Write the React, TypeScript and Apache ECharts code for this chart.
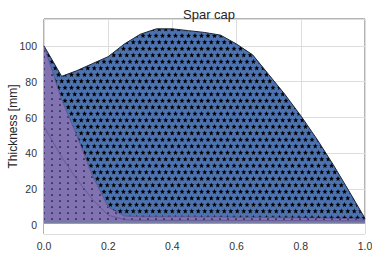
import React, { useEffect, useRef } from "react";
import * as echarts from "echarts";

// Data
const xs = [0, 0.055, 0.1, 0.15, 0.2, 0.25, 0.3, 0.35, 0.4, 0.45, 0.5, 0.55, 0.6, 0.65, 0.7, 0.75, 0.8, 0.85, 0.9, 0.95, 1.0];
// layer thicknesses [mm], from the bottom layer upwards
const layerGreen = [1, 1, 1, 1, 1, 1, 1, 1, 1, 1, 1, 1, 1, 1, 1, 1, 1, 1, 1, 1, 1];
const layerPurpleInner = [54, 37, 25, 13.5, 4.5, 2, 1.6, 1.6, 1.6, 1.6, 1.6, 1.6, 1.6, 1.6, 1.5, 1.5, 1.5, 1.5, 1.4, 1.4, 1.3];
const layerPurpleOuter = [45, 32, 25, 13.5, 4.5, 2, 2, 2, 2, 2, 1.9, 1.9, 1.8, 1.7, 1.7, 1.6, 1.5, 1.4, 1.4, 1.2, 1.0];
const layerBlue = [0, 13, 35, 62, 84, 96, 101.9, 104.9, 104.9, 103.9, 103, 101.5, 96.6, 90.7, 79.8, 68.9, 57, 44.1, 30.2, 15.4, 0.4];
const xTicks = [0, 0.2, 0.4, 0.6, 0.8, 1.0];
const yAxisName = "Thickness [mm]";
const chartTitle = "Spar cap";

const FONT = "Liberation Sans, Arial, sans-serif";

function starTile(bg: string): HTMLCanvasElement {
  const c = document.createElement("canvas");
  c.width = 13;
  c.height = 13;
  const ctx = c.getContext("2d")!;
  ctx.fillStyle = bg;
  ctx.fillRect(0, 0, 13, 13);
  ctx.fillStyle = "#000";
  const pts = [
    [3.25, 3.25], [9.75, 3.25],
    [0, 9.75], [6.5, 9.75], [13, 9.75],
    [0, -3.25], [6.5, -3.25], [13, -3.25],
    [3.25, 16.25], [9.75, 16.25],
  ];
  for (const [cx, cy] of pts) {
    ctx.beginPath();
    for (let i = 0; i < 10; i++) {
      const a = -Math.PI / 2 + (i * Math.PI) / 5;
      const r = i % 2 === 0 ? 2.75 : 1.15;
      ctx.lineTo(cx + r * Math.cos(a), cy + r * Math.sin(a));
    }
    ctx.closePath();
    ctx.fill();
  }
  return c;
}

function dotTile(bg: string): HTMLCanvasElement {
  const c = document.createElement("canvas");
  c.width = 8;
  c.height = 6;
  const ctx = c.getContext("2d")!;
  ctx.fillStyle = bg;
  ctx.fillRect(0, 0, 8, 6);
  ctx.fillStyle = "#111";
  ctx.beginPath();
  ctx.arc(4, 3, 0.85, 0, Math.PI * 2);
  ctx.fill();
  return c;
}

function cumulative(layers: number[][]): number[][] {
  const out: number[][] = [];
  let acc = xs.map(() => 0);
  for (const l of layers) {
    acc = acc.map((a, i) => a + l[i]);
    out.push(acc.slice());
  }
  return out;
}

export default function App() {
  const ref = useRef<HTMLDivElement>(null);
  useEffect(() => {
    if (!ref.current) return;
    const chart = echarts.init(ref.current, undefined, { renderer: "svg" });
    const [topGreen, topInner, topOuter, topBlue] = cumulative([
      layerGreen,
      layerPurpleInner,
      layerPurpleOuter,
      layerBlue,
    ]);
    const toData = (vals: number[]) => xs.map((x, i) => [x, vals[i]]);
    const blueFill = { image: starTile("#4c72b0"), repeat: "repeat" };
    const purpleFill = { image: dotTile("#8172b2"), repeat: "repeat" };
    const common = {
      type: "line",
      symbol: "none",
      smooth: false,
      silent: true,
    };
    chart.setOption({
      animation: false,
      backgroundColor: "#ffffff",
      title: {
        text: chartTitle,
        left: 178,
        top: 3,
        textStyle: { fontSize: 13, fontWeight: "normal", color: "#262626", fontFamily: FONT },
      },
      graphic: [
        {
          type: "text",
          x: 13,
          y: 126.5,
          rotation: Math.PI / 2,
          silent: true,
          style: {
            text: yAxisName,
            textAlign: "center",
            textVerticalAlign: "middle",
            fontSize: 12,
            fontFamily: FONT,
            fill: "#262626",
          },
        },
      ],
      grid: {
        left: 44,
        right: 7,
        top: 19,
        bottom: 20,
        containLabel: false,
        outerBoundsMode: "none",
        show: true,
        borderColor: "#666666",
        borderWidth: 1,
        backgroundColor: "transparent",
      },
      xAxis: {
        type: "value",
        min: 0,
        max: 1,
        interval: 0.2,
        axisLine: { show: false },
        axisTick: { show: false },
        splitLine: { show: true, lineStyle: { color: "#dddddd", width: 1 } },
        axisLabel: {
          color: "#333333",
          fontSize: 10.5,
          fontFamily: FONT,
          margin: 6,
          formatter: (v: number) => {
            const t = xTicks.find((k) => Math.abs(k - v) < 1e-6);
            return t === undefined ? "" : t.toFixed(1);
          },
        },
      },
      yAxis: {
        type: "value",
        min: -5,
        max: 115,
        splitNumber: 5,
        axisLine: { show: false },
        axisTick: { show: false },
        splitLine: { show: true, lineStyle: { color: "#dddddd", width: 1 } },
        axisLabel: {
          color: "#333333",
          fontSize: 10.5,
          fontFamily: FONT,
          margin: 7,
          showMinLabel: false,
          showMaxLabel: false,
          formatter: (v: number) => (Math.abs(v % 20) < 1e-6 ? String(v) : ""),
        },
      },
      series: [
        {
          ...common,
          name: "blue",
          data: toData(topBlue),
          lineStyle: { color: "#1d2638", width: 1 },
          areaStyle: { color: blueFill, opacity: 1, origin: "start" },
        },
        {
          ...common,
          name: "purple outer",
          data: toData(topOuter),
          lineStyle: { color: "#5f5393", width: 0.8 },
          areaStyle: { color: purpleFill, opacity: 1, origin: "start" },
        },
        {
          ...common,
          name: "purple inner",
          data: toData(topInner),
          lineStyle: { color: "#5f5393", width: 0.8 },
          areaStyle: { color: purpleFill, opacity: 0, origin: "start" },
        },
        {
          ...common,
          name: "green",
          data: toData(topGreen),
          lineStyle: { color: "#55a868", width: 1 },
          areaStyle: { color: "#ffffff", opacity: 1, origin: "start" },
        },
      ],
    });
    return () => chart.dispose();
  }, []);
  return <div ref={ref} style={{ width: 372, height: 254, position: "absolute", left: 0, top: 0 }} />;
}
